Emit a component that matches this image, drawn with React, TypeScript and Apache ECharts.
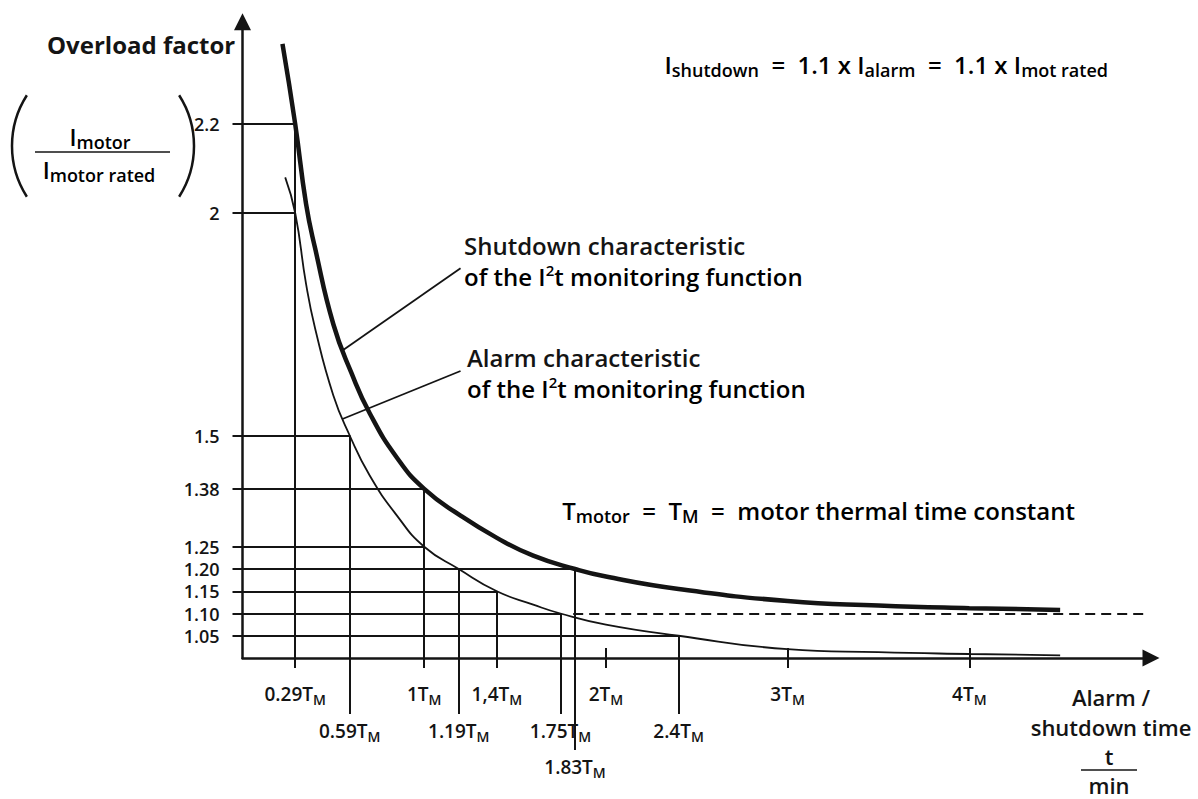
import React, { useEffect, useRef } from "react";
import * as echarts from "echarts";

// ---- data ----
const yTickValues = [1.05, 1.1, 1.15, 1.2, 1.25, 1.38, 1.5, 2, 2.2];
const yTickLabels = ["1.05", "1.10", "1.15", "1.20", "1.25", "1.38", "1.5", "2", "2.2"];

// horizontal guide lines: level and time where they meet a characteristic
const guideLevels = [2.2, 2.0, 1.5, 1.38, 1.25, 1.2, 1.15, 1.1, 1.05];
const guideReach = [0.29, 0.29, 0.59, 1.0, 1.0, 1.83, 1.4, 1.75, 2.4];

// vertical guide lines: time and level of the characteristic point
const markTimes = [0.29, 0.59, 1.0, 1.19, 1.4, 1.75, 1.83, 2.4];
const markLevels = [2.2, 1.5, 1.38, 1.2, 1.15, 1.1, 1.2, 1.05];

// time-axis labels (three rows)
const row1Times = [0.29, 1, 1.4, 2, 3, 4];
const row1Labels = ["0.29", "1", "1,4", "2", "3", "4"];
const row2Times = [0.59, 1.19, 1.75, 2.4];
const row2Labels = ["0.59", "1.19", "1.75", "2.4"];
const row3Times = [1.83];
const row3Labels = ["1.83"];
const wholeTimes = [2, 3, 4];

// alarm characteristic (thin)
const alarmT = [0.235, 0.29, 0.35, 0.4, 0.5, 0.59, 0.7, 0.85, 1.0, 1.19, 1.4, 1.6, 1.75, 2.0, 2.4, 3.0, 3.5, 4.0, 4.5];
const alarmV = [2.08, 2.0, 1.84, 1.74, 1.59, 1.5, 1.41, 1.32, 1.25, 1.2, 1.15, 1.12, 1.1, 1.075, 1.05, 1.02, 1.013, 1.009, 1.006];

// shutdown characteristic (thick)
const shutT = [0.22, 0.29, 0.35, 0.4, 0.5, 0.6, 0.7, 0.85, 1.0, 1.2, 1.4, 1.6, 1.83, 2.0, 2.4, 3.0, 3.5, 4.0, 4.5];
const shutV = [2.38, 2.2, 2.02, 1.92, 1.75, 1.64, 1.55, 1.45, 1.38, 1.32, 1.27, 1.23, 1.2, 1.183, 1.155, 1.128, 1.118, 1.112, 1.108];

// dashed 1.1 x rated line
const dashLevel = 1.1;
const dashFrom = 1.82;
const dashTo = 4.97;

// leader lines (curve point -> label)
const shutLeader = [[0.55, 1.691], [1.2, 1.876]];
const alarmLeader = [[0.55, 1.537], [1.2, 1.645]];

// ---- styling ----
const INK = "#141414";
const FONT = "'Open Sans', 'Noto Sans', sans-serif";

const nearestLabel = (v: number, values: number[], labels: string[]) => {
  let best = 0;
  values.forEach((x, i) => {
    if (Math.abs(x - v) < Math.abs(values[best] - v)) best = i;
  });
  return labels[best];
};

const labelRich = {
  n: { fontSize: 19, fontWeight: 600, fontFamily: FONT, color: INK, lineHeight: 24 },
  s: { fontSize: 14, fontWeight: 600, fontFamily: FONT, color: INK, lineHeight: 14, padding: [10, 0, 0, 0] },
};

const bigRich = {
  m: { fontSize: 24, fontWeight: 600, fontFamily: FONT, color: INK, lineHeight: 30 },
  s: { fontSize: 18, fontWeight: 600, fontFamily: FONT, color: INK, lineHeight: 18, padding: [12, 0, 0, 0] },
};

const fracRich = {
  m: { fontSize: 23, fontWeight: 600, fontFamily: FONT, color: INK, lineHeight: 28 },
  s: { fontSize: 18, fontWeight: 600, fontFamily: FONT, color: INK, lineHeight: 18, padding: [10, 0, 0, 0] },
};

const noteRich = {
  m: { fontSize: 24, fontWeight: 600, fontFamily: FONT, color: INK, lineHeight: 27 },
  p: { fontSize: 15, fontWeight: 600, fontFamily: FONT, color: INK, lineHeight: 15, padding: [0, 0, 12, 0] },
};

const timeAxis = (values: number[], labels: string[] | null, tickLen: number, margin: number, inside: boolean, showLine: boolean) => ({
  type: "value",
  gridIndex: 0,
  position: "bottom",
  min: 0,
  max: 5,
  axisLine: showLine
    ? { show: true, onZero: false, symbol: ["none", "triangle"], symbolSize: [17, 17], lineStyle: { color: INK, width: 2.5 } }
    : { show: false },
  axisTick: { show: true, inside, customValues: values, length: tickLen, lineStyle: { color: INK, width: 2 } },
  axisLabel: labels
    ? {
        show: true,
        customValues: values,
        margin,
        formatter: (v: number) => `{n|${nearestLabel(v, values, labels)}T}{s|M}`,
        rich: labelRich,
      }
    : { show: false },
  splitLine: { show: false },
});

const segStyle = { color: INK, width: 2, opacity: 1, curveness: 0 };

const textStyle = (text: string, align: string, size = 22) => ({
  text,
  fill: INK,
  fontSize: size,
  fontWeight: 600,
  fontFamily: FONT,
  align,
  verticalAlign: "middle",
});

export default function App() {
  const ref = useRef<HTMLDivElement>(null);

  useEffect(() => {
    const chart = echarts.init(ref.current!, undefined, { renderer: "svg" });
    const option: any = {
      animation: false,
      backgroundColor: "#ffffff",
      grid: { left: 242.5, right: 47, top: 21.65, bottom: 141, containLabel: false },
      xAxis: [
        timeAxis(row1Times, row1Labels, 10, 24, false, true),
        timeAxis(row2Times, row2Labels, 56, 61, false, false),
        timeAxis(row3Times, row3Labels, 92, 97, false, false),
        timeAxis(wholeTimes, null, 10, 0, true, false),
      ],
      yAxis: {
        type: "value",
        position: "left",
        min: 1,
        max: 2.43,
        axisLine: { show: true, onZero: false, symbol: ["none", "triangle"], symbolSize: [17, 17], lineStyle: { color: INK, width: 2.5 } },
        axisTick: { show: true, customValues: yTickValues, length: 10, lineStyle: { color: INK, width: 2 } },
        axisLabel: {
          show: true,
          customValues: yTickValues,
          margin: 23,
          formatter: (v: number) => nearestLabel(v, yTickValues, yTickLabels),
          color: INK,
          fontSize: 18,
          fontWeight: 600,
          fontFamily: FONT,
        },
        splitLine: { show: false },
      },
      series: [
        {
          name: "Shutdown characteristic",
          type: "line",
          data: shutT.map((t, i) => [t, shutV[i]]),
          symbol: "none",
          smooth: 0.5,
          lineStyle: { color: INK, width: 4.5 },
          z: 5,
        },
        {
          name: "Alarm characteristic",
          type: "line",
          data: alarmT.map((t, i) => [t, alarmV[i]]),
          symbol: "none",
          smooth: 0.5,
          lineStyle: { color: INK, width: 1.8 },
          z: 5,
        },
        {
          name: "level guides",
          type: "lines",
          coordinateSystem: "cartesian2d",
          silent: true,
          lineStyle: segStyle,
          data: guideLevels.map((v, i) => ({ coords: [[0, v], [guideReach[i], v]] })),
        },
        {
          name: "time guides",
          type: "lines",
          coordinateSystem: "cartesian2d",
          silent: true,
          lineStyle: segStyle,
          data: markTimes.map((t, i) => ({ coords: [[t, markLevels[i]], [t, 1]] })),
        },
        {
          name: "1.1 x rated",
          type: "lines",
          coordinateSystem: "cartesian2d",
          silent: true,
          lineStyle: { ...segStyle, type: [10, 6] },
          data: [{ coords: [[dashFrom, dashLevel], [dashTo, dashLevel]] }],
        },
        {
          name: "leaders",
          type: "lines",
          coordinateSystem: "cartesian2d",
          silent: true,
          lineStyle: { ...segStyle, width: 1.8 },
          data: [{ coords: shutLeader }, { coords: alarmLeader }],
        },
      ],
      graphic: [
        {
          type: "text",
          x: 47,
          y: 44,
          style: { text: "Overload factor", fill: INK, fontSize: 24, fontWeight: "bold", fontFamily: FONT, align: "left", verticalAlign: "middle" },
        },
        {
          type: "arc",
          shape: { cx: 106, cy: 146, r: 94, startAngle: Math.PI - 0.57, endAngle: Math.PI + 0.57, clockwise: true },
          style: { stroke: INK, lineWidth: 2.5, fill: "none" },
        },
        {
          type: "arc",
          shape: { cx: 100, cy: 146, r: 94, startAngle: -0.57, endAngle: 0.57, clockwise: true },
          style: { stroke: INK, lineWidth: 2.5, fill: "none" },
        },
        {
          type: "text",
          x: 100,
          y: 137,
          style: { text: "{m|I}{s|motor}", rich: fracRich, align: "center", verticalAlign: "middle" },
        },
        {
          type: "line",
          shape: { x1: 35, y1: 152, x2: 170, y2: 152 },
          style: { stroke: INK, lineWidth: 1.6 },
        },
        {
          type: "text",
          x: 99,
          y: 170,
          style: { text: "{m|I}{s|motor rated}", rich: fracRich, align: "center", verticalAlign: "middle" },
        },
        {
          type: "text",
          x: 1108,
          y: 64,
          style: {
            text: "{m|I}{s|shutdown}{m|  =  1.1 x I}{s|alarm}{m|  =  1.1 x I}{s|mot rated}",
            rich: bigRich,
            align: "right",
            verticalAlign: "middle",
          },
        },
        { type: "text", x: 464, y: 245, style: { ...textStyle("Shutdown characteristic", "left", 24) } },
        {
          type: "text",
          x: 464,
          y: 276,
          style: { text: "{m|of the I}{p|2}{m|t monitoring function}", rich: noteRich, align: "left", verticalAlign: "middle" },
        },
        { type: "text", x: 467, y: 357, style: { ...textStyle("Alarm characteristic", "left", 24) } },
        {
          type: "text",
          x: 467,
          y: 388,
          style: { text: "{m|of the I}{p|2}{m|t monitoring function}", rich: noteRich, align: "left", verticalAlign: "middle" },
        },
        {
          type: "text",
          x: 1075,
          y: 510,
          style: {
            text: "{m|T}{s|motor}{m|  =  T}{s|M}{m|  =  motor thermal time constant}",
            rich: bigRich,
            align: "right",
            verticalAlign: "middle",
          },
        },
        { type: "text", x: 1111, y: 697, style: { ...textStyle("Alarm /", "center", 22) } },
        { type: "text", x: 1111, y: 727, style: { ...textStyle("shutdown time", "center", 22) } },
        { type: "text", x: 1109, y: 756, style: { ...textStyle("t", "center", 22) } },
        {
          type: "line",
          shape: { x1: 1081, y1: 770, x2: 1137, y2: 770 },
          style: { stroke: INK, lineWidth: 1.6 },
        },
        { type: "text", x: 1109, y: 785, style: { ...textStyle("min", "center", 22) } },
      ],
    };
    chart.setOption(option);
    return () => chart.dispose();
  }, []);

  return (
    <div
      ref={ref}
      style={{ position: "fixed", left: 0, top: 0, width: 1198, height: 799, background: "#ffffff" }}
    />
  );
}
